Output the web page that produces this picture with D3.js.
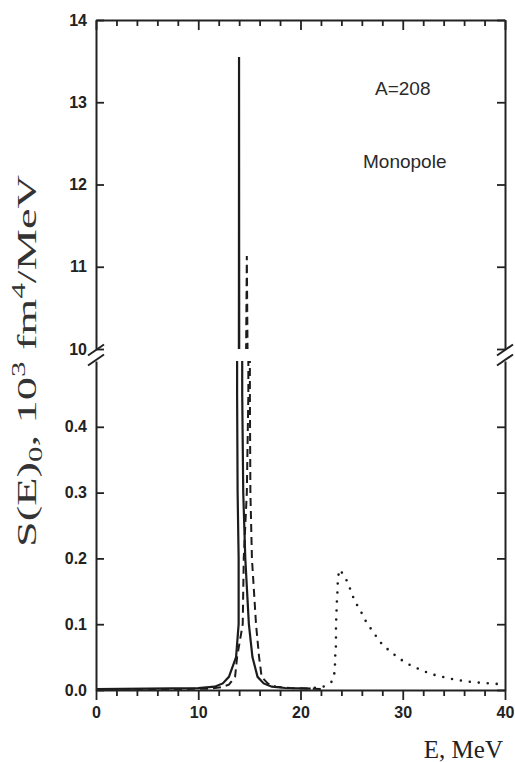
<!DOCTYPE html>
<html>
<head>
<meta charset="utf-8">
<script src="https://cdn.jsdelivr.net/npm/d3@7"></script>
<style>
body { margin: 0; background: #fff; }
</style>
</head>
<body>
<script>
// tick values
var xTicks = [0, 10, 20, 30, 40];
var xMinor = [2, 4, 6, 8, 12, 14, 16, 18, 22, 24, 26, 28, 32, 34, 36, 38];
var topTicks = [10, 11, 12, 13, 14];
var botTicks = [0, 0.1, 0.2, 0.3, 0.4];

// solid curve
var solidE = [0, 5, 10, 11.6, 12.4, 13.0, 13.7, 13.95, 13.95, 13.85, 13.8, 13.975, 13.99, 14.005,
              14.3, 14.4, 14.6, 14.95, 15.3, 15.8, 16.4, 17.2, 18.5, 21];
var solidS = [0.0015, 0.002, 0.003, 0.005, 0.01, 0.02, 0.05, 0.1, 0.2, 0.3, 0.45, 10, 13.55, 10,
              0.45, 0.3, 0.2, 0.1, 0.05, 0.02, 0.01, 0.005, 0.003, 0.002];

// dashed curve
var dashedE = [0, 8, 11, 12.2, 13.0, 13.6, 13.8, 14.35, 14.45, 14.75, 14.9, 14.68, 14.75, 14.82,
               15.05, 15.1, 15.25, 15.65, 15.95, 16.2, 16.8, 17.6, 19, 22];
var dashedS = [0.001, 0.0015, 0.002, 0.004, 0.008, 0.02, 0.05, 0.1, 0.2, 0.3, 0.45, 10, 11.13, 10,
               0.45, 0.3, 0.2, 0.1, 0.05, 0.02, 0.01, 0.005, 0.003, 0.0015];

// dotted curve
var dottedE = [21.4, 22.23, 23.05, 23.31, 23.37, 23.4, 23.47, 23.47, 23.47, 23.5, 23.54, 23.57, 23.64, 23.64,
               23.8, 24.28, 24.71, 25.07, 25.5, 25.98, 26.47, 27.12, 27.78, 28.59, 29.47, 30.32,
               31.13, 32.01, 32.83, 33.64, 34.45, 35.28, 36.09, 36.9, 37.72, 38.53, 39.44];
var dottedS = [0.0035, 0.005, 0.0126, 0.0254, 0.038, 0.053, 0.068, 0.084, 0.096, 0.111, 0.126, 0.139, 0.155, 0.168,
               0.183, 0.174, 0.16, 0.144, 0.13, 0.117, 0.102, 0.088, 0.073, 0.061, 0.05, 0.041,
               0.035, 0.029, 0.024, 0.021, 0.018, 0.015, 0.0137, 0.0117, 0.011, 0.01, 0.009];

var svg = d3.select("body").append("svg")
    .attr("width", 515)
    .attr("height", 762);

var x = d3.scaleLinear().domain([0, 40]).range([96, 505]);
var yTop = d3.scaleLinear().domain([10, 14]).range([349, 20]);
var yBot = d3.scaleLinear().domain([0, 0.5]).range([690, 361]);

var defs = svg.append("defs");
defs.append("clipPath").attr("id", "clipTop").append("rect")
    .attr("x", x(0)).attr("y", yTop(14))
    .attr("width", x(40) - x(0)).attr("height", yTop(10) - yTop(14));
defs.append("clipPath").attr("id", "clipBot").append("rect")
    .attr("x", x(0)).attr("y", yBot(0.5))
    .attr("width", x(40) - x(0)).attr("height", yBot(0) - yBot(0.5));

function zip(es, ss) {
    return es.map(function(e, i) { return [e, ss[i]]; });
}

var series = [
    {pts: zip(solidE, solidS), width: 2.2, dash: null},
    {pts: zip(dashedE, dashedS), width: 2, dash: "8,5"},
    {pts: zip(dottedE, dottedS), width: 2.6, dash: "0,9"}
];

[["clipTop", yTop], ["clipBot", yBot]].forEach(function(p) {
    var yy = p[1];
    var line = d3.line()
        .x(function(d) { return x(d[0]); })
        .y(function(d) { return yy(d[1]); });
    var g = svg.append("g").attr("clip-path", "url(#" + p[0] + ")");
    series.forEach(function(s) {
        g.append("path")
            .attr("d", line(s.pts))
            .attr("fill", "none")
            .attr("stroke", "#1c1c1c")
            .attr("stroke-width", s.width)
            .attr("stroke-linecap", s.dash == "0,9" ? "round" : "butt")
            .attr("stroke-dasharray", s.dash);
    });
});

function styleAxis(g) {
    g.attr("font-family", "'Liberation Sans', Arial, sans-serif")
        .attr("font-size", 16)
        .attr("font-weight", "bold");
    g.selectAll(".domain").attr("stroke", "#222").attr("stroke-width", 2);
    g.selectAll(".tick line").attr("stroke", "#222").attr("stroke-width", 1.8);
    g.selectAll(".tick text").attr("fill", "#222");
}

// bottom axis
svg.append("g").attr("transform", "translate(0,690)")
    .call(d3.axisBottom(x).tickValues(xTicks).tickSize(10).tickSizeOuter(0).tickPadding(7)
        .tickFormat(d3.format("d")))
    .call(styleAxis);
svg.append("g").attr("transform", "translate(0,690)")
    .call(d3.axisBottom(x).tickValues(xMinor).tickSize(6).tickFormat(""))
    .call(styleAxis)
    .select(".domain").remove();

// top axis
svg.append("g").attr("transform", "translate(0,20)")
    .call(d3.axisBottom(x).tickValues(xTicks).tickSize(10).tickSizeOuter(0).tickFormat(""))
    .call(styleAxis);
svg.append("g").attr("transform", "translate(0,20)")
    .call(d3.axisBottom(x).tickValues(xMinor).tickSize(6).tickFormat(""))
    .call(styleAxis)
    .select(".domain").remove();

// left axes
svg.append("g").attr("transform", "translate(" + x(0) + ",0)")
    .call(d3.axisLeft(yTop).tickValues(topTicks).tickSize(-8).tickSizeOuter(0).tickPadding(9)
        .tickFormat(d3.format("d")))
    .call(styleAxis);
svg.append("g").attr("transform", "translate(" + x(0) + ",0)")
    .call(d3.axisLeft(yBot).tickValues(botTicks).tickSize(-8).tickSizeOuter(0).tickPadding(9)
        .tickFormat(d3.format(".1f")))
    .call(styleAxis);

// right axes
svg.append("g").attr("transform", "translate(" + x(40) + ",0)")
    .call(d3.axisRight(yTop).tickValues(topTicks).tickSize(-8).tickSizeOuter(0).tickFormat(""))
    .call(styleAxis);
svg.append("g").attr("transform", "translate(" + x(40) + ",0)")
    .call(d3.axisRight(yBot).tickValues(botTicks).tickSize(-8).tickSizeOuter(0).tickFormat(""))
    .call(styleAxis);

// axis break marks
[x(0), x(40)].forEach(function(sx) {
    [yTop(10) + 1, yBot(0.5) - 1].forEach(function(by) {
        svg.append("line")
            .attr("x1", sx - 8).attr("y1", by + 5.5)
            .attr("x2", sx + 8).attr("y2", by - 5.5)
            .attr("stroke", "#222")
            .attr("stroke-width", 2);
    });
});

// annotations
svg.append("text")
    .attr("x", 375).attr("y", 95)
    .attr("font-family", "'Liberation Sans', Arial, sans-serif")
    .attr("font-size", 19)
    .attr("fill", "#2a2a2a")
    .text("A=208");
svg.append("text")
    .attr("x", 363).attr("y", 168)
    .attr("font-family", "'Liberation Sans', Arial, sans-serif")
    .attr("font-size", 19)
    .attr("fill", "#2a2a2a")
    .text("Monopole");

svg.append("text")
    .attr("x", 503).attr("y", 758)
    .attr("text-anchor", "end")
    .attr("font-family", "'Liberation Serif', 'Times New Roman', serif")
    .attr("font-size", 25)
    .attr("fill", "#222")
    .text("E, MeV");

// y label
var yl = svg.append("g").attr("transform", "translate(36,361) rotate(-90)")
    .append("text")
    .attr("text-anchor", "middle")
    .attr("font-family", "'Liberation Serif', 'Times New Roman', serif")
    .attr("font-size", 27)
    .attr("fill", "#333");
yl.append("tspan").text("S(E)");
yl.append("tspan").attr("font-size", 18).attr("dy", 6).text("0");
yl.append("tspan").attr("dy", -6).text(", 10");
yl.append("tspan").attr("font-size", 18).attr("dy", -11).text("3");
yl.append("tspan").attr("dy", 11).text(" fm");
yl.append("tspan").attr("font-size", 18).attr("dy", -11).text("4");
yl.append("tspan").attr("dy", 11).text("/MeV");
var len = yl.node().getComputedTextLength();
yl.attr("transform", "scale(" + (372 / len) + ",1)");
</script>
</body>
</html>
